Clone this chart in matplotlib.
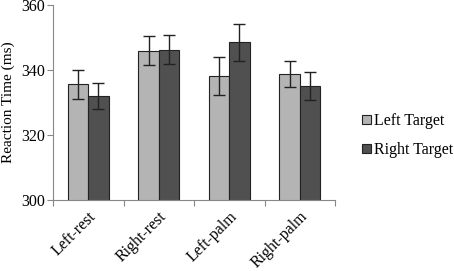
import numpy as np
import matplotlib
matplotlib.use("Agg")
import matplotlib.pyplot as plt

conditions = ["Left-rest", "Right-rest", "Left-palm", "Right-palm"]
left_target = [335.6, 346.0, 338.1, 338.7]
left_err = [4.4, 4.6, 5.8, 4.0]
right_target = [332.0, 346.2, 348.6, 335.1]
right_err = [4.0, 4.5, 5.7, 4.2]

plt.rcParams['font.family'] = ['Liberation Serif', 'DejaVu Serif']

fig = plt.figure(figsize=(4.54, 2.71), dpi=100)
ax = fig.add_axes([53 / 454, 1 - 200 / 271, (335 - 53) / 454, (200 - 5) / 271])

x = np.arange(len(conditions))
w = 0.29
err_kw = dict(ecolor="#222222", elinewidth=1.0, capsize=4, capthick=1.0)
ax.bar(x - w / 2, left_target, w, yerr=left_err, color="#b4b4b4",
       edgecolor="#222222", linewidth=0.8, label="Left Target", error_kw=err_kw)
ax.bar(x + w / 2, right_target, w, yerr=right_err, color="#505050",
       edgecolor="#222222", linewidth=0.8, label="Right Target", error_kw=err_kw)

ax.set_ylim(300, 360)
ax.set_xlim(-0.5, len(conditions) - 0.5)
ax.set_yticks([300, 320, 340, 360])
ax.set_xticks(np.arange(-0.5, len(conditions)), minor=False)
ax.set_xticklabels([])
ax.set_xticks(x, minor=True)
ax.set_xticklabels(conditions, minor=True, rotation=45, ha="right",
                   rotation_mode="anchor", fontsize=11.5)
ax.tick_params(axis="x", which="minor", length=0, pad=6)
ax.tick_params(axis="x", which="major", length=4, color="#888888", direction="out")
ax.tick_params(axis="y", length=4, color="#888888", labelsize=11.5, pad=2)
ax.set_ylabel("Reaction Time (ms)", fontsize=11, labelpad=4)

for s in ["top", "right"]:
    ax.spines[s].set_visible(False)
for s in ["left", "bottom"]:
    ax.spines[s].set_color("#888888")

ax.legend(loc="center left", bbox_to_anchor=(1.096, 0.33), frameon=False,
          fontsize=11.5, handlelength=0.55, handleheight=0.55, handletextpad=0.2,
          labelspacing=0.8, borderpad=0, borderaxespad=0)

fig.savefig("out.png", dpi=100)
